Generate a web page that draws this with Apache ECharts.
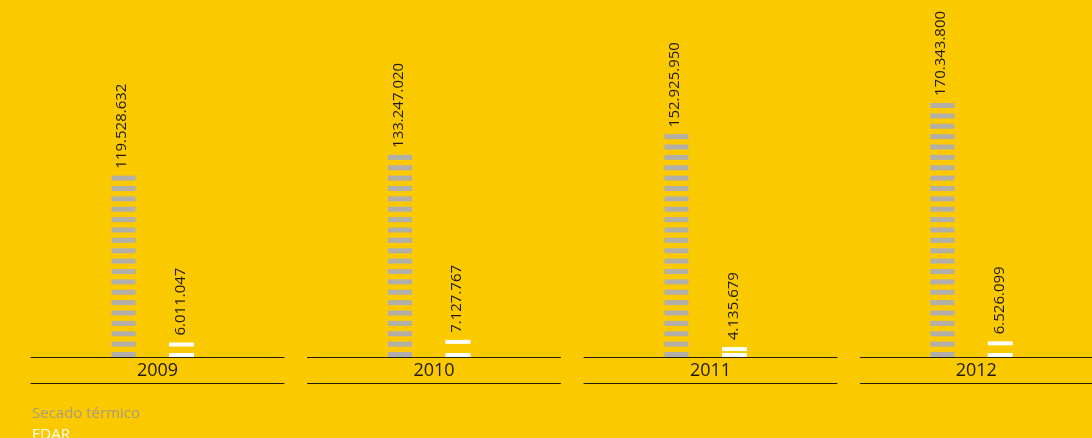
<!DOCTYPE html>
<html>
<head>
<meta charset="utf-8">
<script src="https://cdn.jsdelivr.net/npm/echarts@6/dist/echarts.min.js"></script>
<style>
  html, body { margin: 0; padding: 0; background: #fbc900; }
  #chart { width: 1092px; height: 438px; }
</style>
</head>
<body>
<div id="chart"></div>
<script>
// Yearly figures for the two plant types
const years = ['2009', '2010', '2011', '2012'];
const seriesNames = ['Secado térmico', 'EDAR'];
const secadoTermico = [119528632, 133247020, 152925950, 170343800];
const edar = [6011047, 7127767, 4135679, 6526099];

const FONT = '"Open Sans", "Noto Sans", sans-serif';
const GRAY = '#b2afa8';
const LEGEND_GRAY = '#a69d7e';
const WHITE = '#ffffff';
const INK = '#1f1b05';

// Spanish thousands separator
function fmt(v) {
  return String(v).replace(/\B(?=(\d{3})+(?!\d))/g, '.');
}

const grids = [], xAxes = [], yAxes = [], series = [];

years.forEach(function (year, i) {
  grids.push({ left: 31 + i * 276.5, width: 253, top: 20, bottom: 81 });

  // axis line with the year label
  xAxes.push({
    type: 'category', gridIndex: i, data: [year],
    axisLine: { show: true, onZero: false, lineStyle: { color: INK, width: 1 } },
    axisTick: { show: false },
    axisLabel: { color: INK, fontSize: 18, fontFamily: FONT, margin: 5 }
  });
  // second rule under the year label
  xAxes.push({
    type: 'category', gridIndex: i, data: [year], position: 'bottom', offset: 26,
    axisLine: { show: true, onZero: false, lineStyle: { color: INK, width: 1 } },
    axisTick: { show: false }, axisLabel: { show: false }
  });

  yAxes.push({ type: 'value', gridIndex: i, min: 0, max: 231500000, show: false, splitLine: { show: false } });
  yAxes.push({ type: 'value', gridIndex: i, min: 0, max: 140000000, show: false, splitLine: { show: false } });

  const labelBase = {
    show: true, position: 'top', rotate: 90, align: 'left', verticalAlign: 'middle',
    distance: 7, color: INK, fontSize: 15, fontFamily: FONT,
    formatter: function (p) { return fmt(p.value); }
  };

  series.push({
    name: seriesNames[0], type: 'pictorialBar',
    xAxisIndex: 2 * i, yAxisIndex: 2 * i,
    data: [secadoTermico[i]],
    barWidth: 24, barGap: '-100%',
    symbol: 'rect', symbolRepeat: true, symbolSize: [24, 5], symbolMargin: 2.8,
    symbolOffset: [-33.5, 0],
    itemStyle: { color: GRAY },
    label: Object.assign({}, labelBase, { offset: [0, -35] }),
    emphasis: { disabled: true }
  });
  series.push({
    name: seriesNames[1], type: 'pictorialBar',
    xAxisIndex: 2 * i, yAxisIndex: 2 * i + 1,
    data: [edar[i]],
    barWidth: 25, barGap: '-100%',
    // two stripes spread over the bar's own length
    symbol: 'rect', symbolRepeat: 2, symbolSize: [25, 4],
    symbolBoundingData: edar[i],
    symbolOffset: [24, 0],
    itemStyle: { color: WHITE },
    label: Object.assign({}, labelBase, { offset: [0, 23] }),
    emphasis: { disabled: true }
  });
});

// one legend block per line so the second line can run off the bottom edge
function legendLine(name, color, top) {
  return {
    orient: 'vertical', left: 22, top: top,
    itemWidth: 0, itemHeight: 0, icon: 'rect',
    textStyle: { fontFamily: FONT, fontSize: 15, color: color },
    data: [name]
  };
}

const chart = echarts.init(document.getElementById('chart'), null, { renderer: 'canvas' });
chart.setOption({
  backgroundColor: '#fbc900',
  animation: false,
  grid: grids,
  xAxis: xAxes,
  yAxis: yAxes,
  legend: [
    legendLine(seriesNames[0], LEGEND_GRAY, 401),
    legendLine(seriesNames[1], WHITE, 422)
  ],
  series: series
});
</script>
</body>
</html>
